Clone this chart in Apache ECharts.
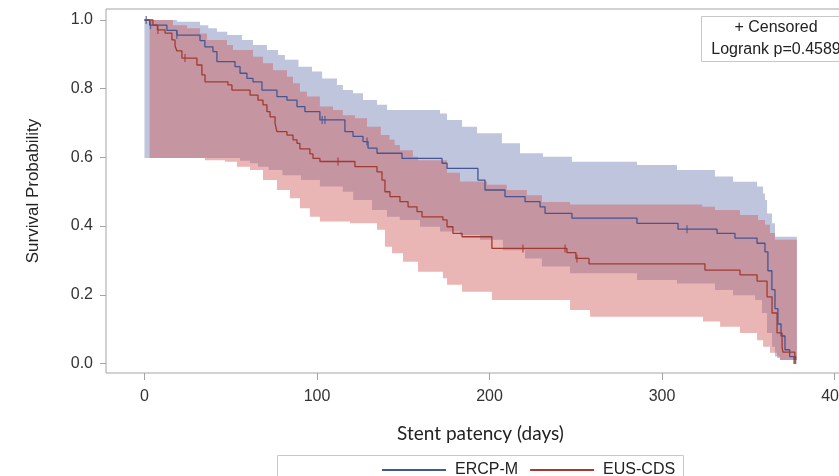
<!DOCTYPE html>
<html>
<head>
<meta charset="utf-8">
<title>Stent patency</title>
<script src="https://cdn.jsdelivr.net/npm/echarts@6/dist/echarts.min.js"></script>
<style>
  html, body { margin: 0; padding: 0; background: #fff; }
  #chart { width: 839px; height: 476px; }
</style>
</head>
<body>
<div id="chart"></div>
<script>
// Kaplan-Meier estimates, [days, survival] at each step
const ercpCurve = [[0, 1.0], [3, 0.985], [13, 0.97], [18.8, 0.956], [32.2, 0.94], [35, 0.922], [39.7, 0.908], [42, 0.879], [52.5, 0.864], [55.4, 0.845], [59.4, 0.83], [62.9, 0.82], [68.1, 0.796], [76.8, 0.777], [82.6, 0.767], [88.4, 0.748], [93, 0.733], [101.7, 0.709], [116.2, 0.675], [120.9, 0.661], [126.7, 0.646], [129.6, 0.627], [134.8, 0.612], [149.3, 0.597], [172.5, 0.583], [175.4, 0.568], [193.3, 0.534], [197.4, 0.505], [209, 0.486], [220.6, 0.471], [229.3, 0.456], [232.2, 0.437], [247.8, 0.423], [285.5, 0.408], [309.3, 0.391], [331.9, 0.379], [342.3, 0.365], [355.1, 0.35], [359.7, 0.325], [361.4, 0.27], [363.7, 0.215], [365.5, 0.16], [367.2, 0.115], [369, 0.08], [371.3, 0.04], [374, 0.02], [377, 0.01]];
const eusCurve = [[0, 1.0], [4.9, 0.985], [7.5, 0.971], [11.9, 0.962], [15.9, 0.942], [17.7, 0.925], [18.8, 0.91], [21.7, 0.889], [30.4, 0.869], [33.3, 0.84], [35.1, 0.82], [48.4, 0.811], [50.7, 0.796], [61.2, 0.781], [65.8, 0.767], [68.7, 0.753], [71, 0.733], [72.8, 0.718], [75.7, 0.699], [76.8, 0.675], [82.6, 0.665], [86.1, 0.651], [88.4, 0.641], [90.1, 0.625], [95.9, 0.61], [97.7, 0.597], [101.7, 0.588], [122, 0.573], [134.8, 0.558], [137.7, 0.534], [139.4, 0.5], [142.3, 0.486], [148.1, 0.471], [152.8, 0.456], [158, 0.442], [160.9, 0.427], [173, 0.418], [175.4, 0.398], [178.8, 0.379], [184.1, 0.369], [201.4, 0.335], [244.9, 0.323], [250.1, 0.306], [257.7, 0.29], [324.9, 0.272], [345.2, 0.258], [355.1, 0.24], [360.9, 0.194], [363.8, 0.147], [366.7, 0.089], [369.6, 0.048], [370.1, 0.033], [377, 0.01]];

// censored observations
const ercpCensor = [[1, 1.0], [3.5, 0.985], [18.8, 0.956], [103, 0.709], [104.6, 0.709], [129, 0.646], [314.5, 0.391], [376.5, 0.01], [377.5, 0.01]];
const eusCensor = [[7.8, 0.971], [23.5, 0.889], [112.2, 0.588], [219.4, 0.335], [243.8, 0.335], [250.7, 0.306], [377, 0.01]];

// 95% confidence bands
const ercpUpper = [[0, 1.0], [18.8, 0.995], [32.2, 0.985], [37, 0.976], [42, 0.966], [48, 0.956], [56.5, 0.942], [62.9, 0.927], [71, 0.913], [77.4, 0.898], [81.4, 0.884], [89.3, 0.864], [97.1, 0.85], [103, 0.83], [111.6, 0.811], [115, 0.796], [120.9, 0.787], [126.7, 0.767], [134.8, 0.753], [140.6, 0.738], [171.3, 0.728], [175.4, 0.709], [184.1, 0.689], [192.8, 0.67], [207.2, 0.641], [217.7, 0.612], [231, 0.602], [247.8, 0.587], [285.5, 0.578], [308.7, 0.563], [330.7, 0.544], [341.2, 0.529], [355.1, 0.515], [358.6, 0.495], [359.7, 0.476], [360.9, 0.437], [363.8, 0.408], [365.5, 0.369], [378.2, 0.36]];
const ercpLower = [[0, 0.598], [55.4, 0.59], [61.2, 0.583], [65.8, 0.573], [72, 0.563], [80, 0.548], [90.7, 0.534], [101.7, 0.515], [115, 0.5], [121, 0.476], [131.9, 0.447], [140.6, 0.427], [148, 0.418], [159.7, 0.398], [171.3, 0.384], [182.9, 0.374], [194.5, 0.36], [207.8, 0.33], [220.6, 0.306], [230.4, 0.282], [246.7, 0.263], [285.5, 0.243], [308.7, 0.233], [330.7, 0.214], [341.2, 0.199], [354, 0.185], [358, 0.147], [360.9, 0.089], [363.8, 0.049], [365.5, 0.02], [368.4, 0.01], [378.2, 0.005]];
const eusUpper = [[3, 1.0], [16.5, 0.985], [24.6, 0.976], [32.2, 0.961], [36.2, 0.942], [47.8, 0.927], [51.3, 0.913], [62.9, 0.893], [68.7, 0.874], [74.5, 0.854], [82.6, 0.835], [86.1, 0.816], [90.1, 0.791], [94.2, 0.777], [101.7, 0.748], [109.3, 0.738], [115, 0.723], [122, 0.714], [129, 0.689], [137, 0.665], [142, 0.651], [145, 0.636], [148.1, 0.621], [155.6, 0.602], [158.6, 0.592], [175.4, 0.555], [182.9, 0.53], [198.6, 0.52], [210, 0.505], [221.7, 0.49], [230.4, 0.47], [246.7, 0.463], [323.3, 0.456], [330.7, 0.447], [345.2, 0.432], [355.7, 0.418], [359.7, 0.404], [362.6, 0.38], [365.5, 0.36], [378.2, 0.36]];
const eusLower = [[3, 0.598], [35, 0.592], [46.7, 0.587], [53.6, 0.573], [61.2, 0.563], [68.7, 0.534], [76.8, 0.505], [84.3, 0.481], [90.1, 0.452], [95.9, 0.427], [101.7, 0.413], [119.1, 0.408], [134.8, 0.389], [139.4, 0.34], [143.5, 0.321], [149.9, 0.296], [158.6, 0.267], [173, 0.248], [175.4, 0.229], [184.1, 0.209], [201.4, 0.185], [246.7, 0.156], [258.3, 0.136], [323.8, 0.122], [333.7, 0.107], [345.2, 0.089], [355.1, 0.068], [358.6, 0.049], [362.6, 0.031], [366.7, 0.016], [368.4, 0.01], [378.2, 0.01]];

const xTicks = [0, 100, 200, 300, 400];
const yTicks = [0, 0.2, 0.4, 0.6, 0.8, 1.0];

const FONT = '"Liberation Sans", Arial, sans-serif';
const BLUE = '#445694';
const RED = '#A23A2E';

// expand step points into a polyline (hold value until next x)
function stepPath(pts) {
    const out = [pts[0]];
    for (let i = 1; i < pts.length; i++) {
        out.push([pts[i][0], pts[i - 1][1]]);
        out.push(pts[i]);
    }
    return out;
}

function band(name, upper, lower, fill, z) {
    return {
        type: 'custom',
        name: name,
        z: z,
        silent: true,
        data: [[0, 0]],
        renderItem(params, api) {
            const pts = stepPath(upper).concat(stepPath(lower).reverse()).map(p => api.coord(p));
            return {
                type: 'polygon',
                shape: { points: pts },
                style: { fill: fill }
            };
        }
    };
}

const chart = echarts.init(document.getElementById('chart'), null, { renderer: 'canvas' });

chart.setOption({
    animation: false,
    backgroundColor: '#fff',
    grid: {
        left: 106,
        top: 9,
        width: 763,
        height: 364,
        outerBoundsMode: 'none',
        show: true,
        borderColor: '#a4a4a4',
        borderWidth: 1
    },
    xAxis: {
        type: 'value',
        min: -22.3,
        max: 420,
        name: 'Stent patency (days)',
        nameLocation: 'middle',
        nameGap: 51,
        nameTextStyle: {
            fontFamily: 'Lato, "Open Sans", sans-serif',
            fontSize: 19,
            color: '#222',
            padding: [0, 14, 0, 0]
        },
        axisLine: { show: false, onZero: false },
        splitLine: { show: false },
        axisTick: {
            show: true,
            length: 7,
            customValues: xTicks,
            lineStyle: { color: '#a4a4a4' }
        },
        axisLabel: {
            customValues: xTicks,
            margin: 16,
            fontFamily: FONT,
            fontSize: 16,
            color: '#333'
        }
    },
    yAxis: {
        type: 'value',
        min: -0.0277,
        max: 1.032,
        name: 'Survival Probability',
        nameLocation: 'middle',
        nameGap: 64,
        nameTextStyle: {
            fontFamily: FONT,
            fontSize: 17,
            color: '#222'
        },
        axisLine: { show: false, onZero: false },
        splitLine: { show: false },
        axisTick: {
            show: true,
            length: 6,
            customValues: yTicks,
            lineStyle: { color: '#a4a4a4' }
        },
        axisLabel: {
            customValues: yTicks,
            margin: 13,
            fontFamily: FONT,
            fontSize: 16,
            color: '#333',
            formatter: v => v.toFixed(1)
        }
    },
    legend: {
        data: ['ERCP-M', 'EUS-CDS'],
        left: 377,
        top: 457,
        icon: 'rect',
        itemWidth: 64,
        itemHeight: 2,
        itemGap: 12,
        textStyle: {
            fontFamily: FONT,
            fontSize: 16,
            color: '#222',
            padding: [0, 0, 0, 4]
        }
    },
    graphic: [
        {
            type: 'rect',
            shape: { x: 277.5, y: 455.5, width: 406, height: 40 },
            style: { fill: 'none', stroke: '#c8c8c8', lineWidth: 1 },
            silent: true
        },
        {
            type: 'group',
            left: 701,
            top: 16,
            children: [
                {
                    type: 'rect',
                    shape: { x: 0.5, y: 0.5, width: 150, height: 45 },
                    style: { fill: '#fff', stroke: '#c8c8c8', lineWidth: 1 }
                },
                {
                    type: 'text',
                    x: 75,
                    y: 12,
                    style: {
                        text: '+ Censored',
                        font: '16px ' + FONT,
                        fill: '#222',
                        align: 'center',
                        verticalAlign: 'middle'
                    }
                },
                {
                    type: 'text',
                    x: 75,
                    y: 34,
                    style: {
                        text: 'Logrank p=0.4589',
                        font: '16px ' + FONT,
                        fill: '#222',
                        align: 'center',
                        verticalAlign: 'middle'
                    }
                }
            ]
        }
    ],
    series: [
        band('ERCP-M band', ercpUpper, ercpLower, 'rgba(111,126,179,0.45)', 1),
        band('EUS-CDS band', eusUpper, eusLower, 'rgba(208,91,91,0.45)', 2),
        {
            name: 'ERCP-M',
            type: 'line',
            step: 'end',
            z: 4,
            showSymbol: false,
            color: BLUE,
            lineStyle: { width: 1.3, color: BLUE },
            data: ercpCurve
        },
        {
            name: 'EUS-CDS',
            type: 'line',
            step: 'end',
            z: 4,
            showSymbol: false,
            color: RED,
            lineStyle: { width: 1.3, color: RED },
            data: eusCurve
        },
        {
            name: 'ERCP-M censored',
            type: 'scatter',
            z: 5,
            symbol: 'rect',
            symbolSize: [1.3, 8],
            itemStyle: { color: BLUE },
            data: ercpCensor
        },
        {
            name: 'EUS-CDS censored',
            type: 'scatter',
            z: 5,
            symbol: 'rect',
            symbolSize: [1.3, 8],
            itemStyle: { color: RED },
            data: eusCensor
        }
    ]
});
</script>
</body>
</html>
